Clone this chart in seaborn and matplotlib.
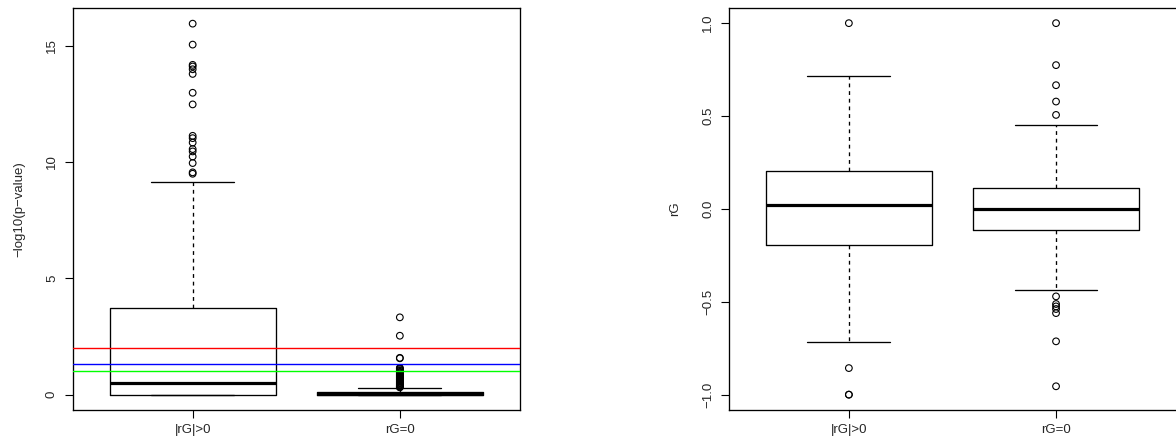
import numpy as np
import pandas as pd
import matplotlib
matplotlib.use("Agg")
import matplotlib.pyplot as plt
import seaborn as sns

# ---------------- data ----------------
categories = ["|rG|>0", "rG=0"]

# five-number summaries: lower whisker, Q1, median, Q3, upper whisker
pval_box_nonzero = [0.0, 0.0, 0.50, 3.72, 9.15]
pval_box_zero = [0.0, 0.0, 0.02, 0.12, 0.29]
pval_out_nonzero = [15.94, 15.04, 14.17, 14.10, 13.98, 13.78, 12.97, 12.47,
                    11.12, 11.02, 10.83, 10.55, 10.45, 10.23, 9.95, 9.55, 9.49]
pval_out_zero = [3.32, 2.53, 1.58, 1.56, 1.15, 1.12, 1.10, 1.05, 1.02, 0.98,
                 0.95, 0.92, 0.88, 0.85, 0.82, 0.78, 0.75, 0.72, 0.68, 0.65,
                 0.62, 0.58, 0.55, 0.52, 0.49, 0.46, 0.43, 0.40, 0.37, 0.35,
                 0.33, 0.31]
threshold_values = [2.0, 1.301, 1.0]
threshold_colors = ["#FF0000", "#0000FF", "#00FF00"]

rg_box_nonzero = [-0.716, -0.196, 0.023, 0.206, 0.716]
rg_box_zero = [-0.438, -0.115, 0.0, 0.113, 0.452]
rg_out_nonzero = [1.0, -0.857, -1.0, -1.0]
rg_out_zero = [1.0, 0.774, 0.666, 0.578, 0.506, -0.471, -0.512, -0.525,
               -0.539, -0.561, -0.713, -0.955]

left_ticks = [0, 5, 10, 15]
left_ticklabels = ["0", "5", "10", "15"]
right_ticks = [-1.0, -0.5, 0.0, 0.5, 1.0]
right_ticklabels = ["\u22121.0", "\u22120.5", "0.0", "0.5", "1.0"]


def frame(a, b):
    return pd.DataFrame({
        "group": [categories[0]] * len(a) + [categories[1]] * len(b),
        "value": list(a) + list(b),
    })


# ---------------- style ----------------
sns.set_style("white")
plt.rcParams["font.family"] = ["Liberation Sans", "DejaVu Sans"]
plt.rcParams["axes.unicode_minus"] = True

W, H = 1176, 443
fig = plt.figure(figsize=(W / 100, H / 100), dpi=100)
axL = fig.add_axes([72.5 / W, 1 - 409.5 / H, 447.5 / W, 401.2 / H])
axR = fig.add_axes([728.7 / W, 1 - 409.5 / H, 447.5 / W, 401.2 / H])

FS = 9.5

box_kw = dict(
    x="group", y="value", order=categories, whis=(0, 100), width=0.8,
    fill=False, color="black", linecolor="black", linewidth=0.95,
    showfliers=False,
    medianprops=dict(linewidth=2.3, color="black"),
    whiskerprops=dict(linestyle=(0, (2.9, 2.9)), color="black"),
)
strip_kw = dict(x="group", y="value", order=categories, jitter=False,
                color="black", size=4.8, linewidth=0.8, edgecolor="black")


def draw(ax, box_a, box_b, out_a, out_b, ylim, ticks, ticklabels, ylabel,
         label_x):
    sns.boxplot(data=frame(box_a, box_b), ax=ax, **box_kw)
    n_before = len(ax.collections)
    sns.stripplot(data=frame(out_a, out_b), ax=ax, **strip_kw)
    for coll in ax.collections[n_before:]:
        coll.set_facecolor("none")
        coll.set_edgecolor("black")
        coll.set_linewidth(0.8)
    ax.set_xlim(-0.58, 1.58)
    ax.set_ylim(*ylim)
    ax.set_yticks(ticks)
    ax.set_yticklabels(ticklabels, rotation=90, va="center")
    ax.set_xlabel("")
    ax.set_ylabel(ylabel, fontsize=FS)
    ax.yaxis.set_label_coords(label_x, 0.5)
    ax.tick_params(axis="both", which="both", direction="out", length=5.5,
                   width=0.8, color="black", labelsize=FS, left=True,
                   bottom=True)
    ax.tick_params(axis="x", pad=5)
    ax.tick_params(axis="y", pad=5)
    for sp in ax.spines.values():
        sp.set_color("black")
        sp.set_linewidth(0.95)
        sp.set_visible(True)


draw(axL, pval_box_nonzero, pval_box_zero, pval_out_nonzero, pval_out_zero,
     (-0.64, 16.6), left_ticks, left_ticklabels, "\u2212log10(p\u2212value)",
     -0.106)
for v, c in zip(threshold_values, threshold_colors):
    axL.axhline(v, color=c, linewidth=1.0, zorder=5)

draw(axR, rg_box_nonzero, rg_box_zero, rg_out_nonzero, rg_out_zero,
     (-1.08, 1.08), right_ticks, right_ticklabels, "rG", -0.106)
axR.spines["right"].set_visible(False)

fig.savefig("out.png", dpi=100)
